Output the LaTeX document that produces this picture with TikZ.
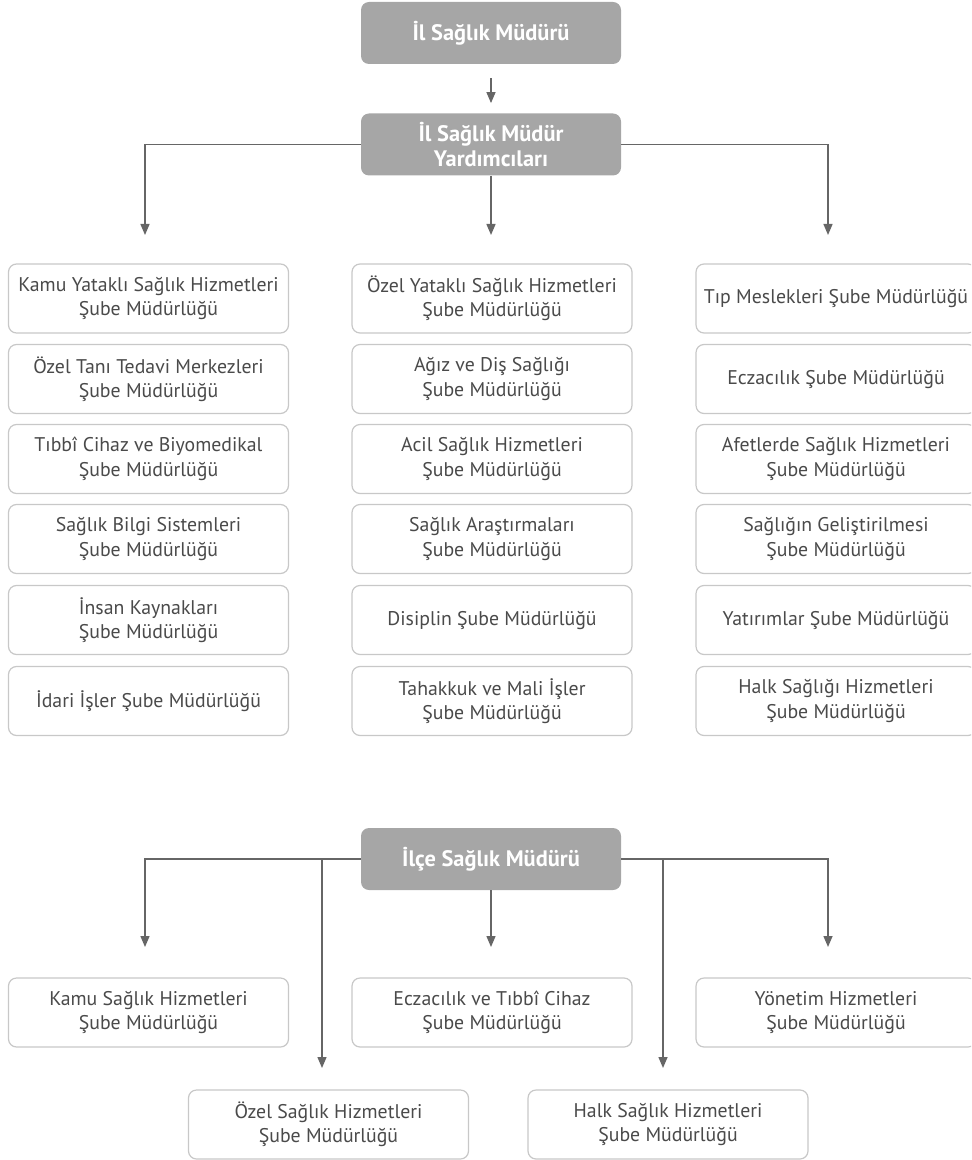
\documentclass[tikz,border=0pt]{standalone}
\usepackage{fontspec}
\setmainfont{PT Sans}
\usepackage{xcolor}
\usetikzlibrary{arrows.meta}

\definecolor{headgray}{HTML}{A6A6A6}
\definecolor{framegray}{HTML}{C8C8C8}
\definecolor{linegray}{HTML}{666666}
\definecolor{textgray}{HTML}{4A4A4A}

\begin{document}
\begin{tikzpicture}[
  x=0.5pt, y=-0.5pt,
  head/.style={fill=headgray, draw=none, rounded corners=4pt, minimum width=130pt, minimum height=31pt,
    align=center, text=white, font=\fontsize{11.2}{12.5}\selectfont\bfseries},
  unit/.style={draw=framegray, line width=0.6pt, fill=white, rounded corners=4pt, minimum width=140pt,
    minimum height=34.5pt, align=center, text=textgray, font=\fontsize{9.9}{12.2}\selectfont},
  conn/.style={draw=linegray, line width=0.7pt},
  arr/.style={conn, -{Triangle[length=5.5pt, width=4.5pt]}}
]
\useasboundingbox (0,0) rectangle (971,1160);
\clip (0,0) rectangle (971,1160);

% il mudurlugu
\node[head] (mudur) at (491,33) {İl Sağlık Müdürü};
\node[head] (yard) at (491,144.5) {İl Sağlık Müdür\\Yardımcıları};

% sol sutun
\node[unit] (k1) at (148.5,298.5) {Kamu Yataklı Sağlık Hizmetleri\\Şube Müdürlüğü};
\node[unit] (k2) at (148.5,379) {Özel Tanı Tedavi Merkezleri\\Şube Müdürlüğü};
\node[unit] (k3) at (148.5,459) {Tıbbî Cihaz ve Biyomedikal\\Şube Müdürlüğü};
\node[unit] (k4) at (148.5,539) {Sağlık Bilgi Sistemleri\\Şube Müdürlüğü};
\node[unit] (k5) at (148.5,620) {İnsan Kaynakları\\Şube Müdürlüğü};
\node[unit] (k6) at (148.5,701) {İdari İşler Şube Müdürlüğü};

% orta sutun
\node[unit] (o1) at (492,298.5) {Özel Yataklı Sağlık Hizmetleri\\Şube Müdürlüğü};
\node[unit] (o2) at (492,379) {Ağız ve Diş Sağlığı\\Şube Müdürlüğü};
\node[unit] (o3) at (492,459) {Acil Sağlık Hizmetleri\\Şube Müdürlüğü};
\node[unit] (o4) at (492,539) {Sağlık Araştırmaları\\Şube Müdürlüğü};
\node[unit] (o5) at (492,620) {Disiplin Şube Müdürlüğü};
\node[unit] (o6) at (492,701) {Tahakkuk ve Mali İşler\\Şube Müdürlüğü};

% sag sutun
\node[unit] (s1) at (836,298.5) {Tıp Meslekleri Şube Müdürlüğü};
\node[unit] (s2) at (836,379) {Eczacılık Şube Müdürlüğü};
\node[unit] (s3) at (836,459) {Afetlerde Sağlık Hizmetleri\\Şube Müdürlüğü};
\node[unit] (s4) at (836,539) {Sağlığın Geliştirilmesi\\Şube Müdürlüğü};
\node[unit] (s5) at (836,620) {Yatırımlar Şube Müdürlüğü};
\node[unit] (s6) at (836,701) {Halk Sağlığı Hizmetleri\\Şube Müdürlüğü};

\coordinate (ya) at (145,235);
\coordinate (yb) at (828,235);
\coordinate (yc) at (491,235);
\draw[arr, shorten <=7pt, shorten >=5pt] (mudur) -- (yard);
\draw[arr] (yard.west) -| (ya);
\draw[arr] (yard.east) -| (yb);
\draw[arr] (yard.south) -- (yc);

% ilce mudurlugu
\node[head] (ilce) at (491,859) {İlçe Sağlık Müdürü};

\node[unit] (b1) at (148.5,1012.5) {Kamu Sağlık Hizmetleri\\Şube Müdürlüğü};
\node[unit] (b2) at (492,1012.5) {Eczacılık ve Tıbbî Cihaz\\Şube Müdürlüğü};
\node[unit] (b3) at (836,1012.5) {Yönetim Hizmetleri\\Şube Müdürlüğü};
\node[unit] (b4) at (328.5,1124.5) {Özel Sağlık Hizmetleri\\Şube Müdürlüğü};
\node[unit] (b5) at (668,1124.5) {Halk Sağlık Hizmetleri\\Şube Müdürlüğü};

\coordinate (ia) at (145,947);
\coordinate (ib) at (828,947);
\coordinate (ic) at (491,947);
\coordinate (id) at (322,1068);
\coordinate (ie) at (663,1068);
\draw[arr] (ilce.west) -| (ia);
\draw[arr] (ilce.east) -| (ib);
\draw[arr] (ilce.south) -- (ic);
\draw[arr] (id |- ilce.west) -- (id);
\draw[arr] (ie |- ilce.east) -- (ie);
\end{tikzpicture}
\end{document}
